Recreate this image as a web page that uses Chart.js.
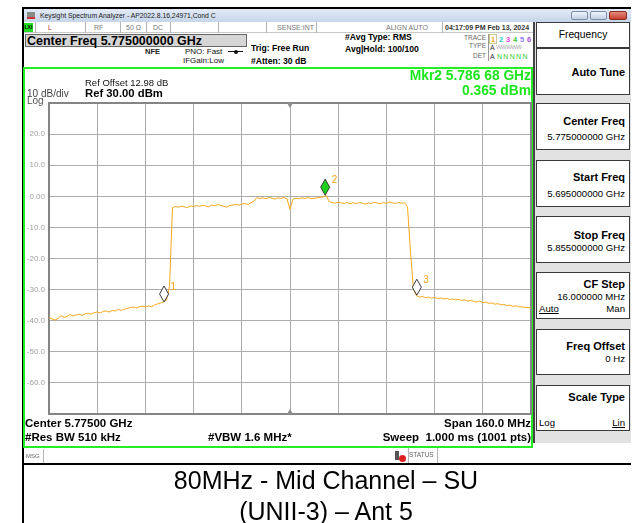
<!DOCTYPE html>
<html>
<head>
<meta charset="utf-8">
<title>Spectrum Analyzer</title>
<script src="https://cdn.jsdelivr.net/npm/chart.js@4.4.1/dist/chart.umd.min.js"></script>
<style>
  body { margin:0; width:632px; height:523px; background:#fff; position:relative; overflow:hidden;
         font-family:"Liberation Sans", Arial, sans-serif; color:#000; }
  .t { position:absolute; white-space:pre; line-height:1; }
  .b { font-weight:bold; }
  .bx { position:absolute; box-sizing:border-box; }
  .sep { position:absolute; width:1px; background:#b4b4b4; }
  .key { position:absolute; left:536px; width:94px; box-sizing:border-box; background:#fff; border:1px solid #3a3a3a; }
  .kt { position:absolute; right:4px; font-weight:bold; font-size:11px; line-height:1; white-space:pre; }
  .kv { position:absolute; right:4px; font-size:9.6px; line-height:1; white-space:pre; }
</style>
</head>
<body>

<!-- outer frame -->
<div class="bx" style="left:22px;top:7px;width:2px;height:516px;background:#000"></div>
<div class="bx" style="left:22px;top:7px;width:609px;height:2px;background:#000"></div>

<!-- title bar -->
<div class="bx" style="left:24px;top:9px;width:607px;height:13px;background:linear-gradient(#e3ebf6,#c6d5e9)"></div>
<div class="bx" style="left:27px;top:12px;width:8px;height:7px;background:#8a8a8a;border-bottom:2px solid #c33"></div>
<div class="t" style="left:40px;top:12.6px;font-size:6.8px;color:#1a1a1a">Keysight Spectrum Analyzer - AP2022.8.16,24971,Cond C</div>
<div class="bx" style="left:571px;top:11px;width:17px;height:9px;background:linear-gradient(#eef3fa,#c2d1e6);border:1px solid #7d8ea6;border-radius:2px"></div>
<div class="bx" style="left:590px;top:11px;width:17px;height:9px;background:linear-gradient(#eef3fa,#c2d1e6);border:1px solid #7d8ea6;border-radius:2px"></div>
<div class="bx" style="left:609px;top:11px;width:18px;height:9px;background:linear-gradient(#e68a80,#c8402f);border:1px solid #8a2a20;border-radius:2px"></div>

<!-- status row -->
<div class="bx" style="left:24px;top:22px;width:510px;height:11px;background:#fff;border-bottom:1px solid #c8c8c8"></div>
<div class="bx" style="left:24px;top:23px;width:9px;height:9px;background:#22dd22"></div>
<div class="t b" style="left:24.5px;top:25px;font-size:5px">LXI</div>
<div class="sep" style="left:35px;top:22px;height:11px"></div>
<div class="sep" style="left:85px;top:22px;height:11px"></div>
<div class="sep" style="left:120px;top:22px;height:11px"></div>
<div class="sep" style="left:146px;top:22px;height:11px"></div>
<div class="sep" style="left:170px;top:22px;height:11px"></div>
<div class="sep" style="left:218px;top:22px;height:11px"></div>
<div class="sep" style="left:266px;top:22px;height:11px"></div>
<div class="sep" style="left:316px;top:22px;height:11px"></div>
<div class="sep" style="left:442px;top:22px;height:11px"></div>
<div class="t" style="left:48px;top:23.6px;font-size:7px;color:#b03a30">L</div>
<div class="t" style="left:94px;top:23.6px;font-size:7px;color:#777">RF</div>
<div class="t" style="left:126px;top:23.6px;font-size:7px;color:#777">50 Ω</div>
<div class="t" style="left:153px;top:23.6px;font-size:7px;color:#777">DC</div>
<div class="t" style="right:318px;top:23.6px;font-size:7px;color:#777">SENSE:INT</div>
<div class="t" style="left:386px;top:23.6px;font-size:7px;color:#777">ALIGN AUTO</div>
<div class="t b" style="left:445px;top:23.6px;font-size:7px;color:#333">04:17:09 PM Feb 13, 2024</div>

<!-- settings area -->
<div class="bx" style="left:25px;top:34px;width:222px;height:13px;background:#d6d6d6;border:1px solid #666"></div>
<div class="t b" style="left:27px;top:35.2px;font-size:12.5px">Center Freq 5.775000000 GHz</div>
<div class="t b" style="left:145px;top:48.1px;font-size:7.5px;color:#222">NFE</div>
<div class="t" style="left:185px;top:48.1px;font-size:8px;color:#111">PNO: Fast</div>
<div class="bx" style="left:228px;top:51px;width:15px;height:1px;background:#111"></div>
<div class="bx" style="left:234px;top:49.5px;width:4px;height:4px;border-radius:2px;background:#111"></div>
<div class="t" style="left:183px;top:57.1px;font-size:8px;color:#111">IFGain:Low</div>
<div class="t b" style="left:251px;top:44.3px;font-size:8.6px">Trig: Free Run</div>
<div class="t b" style="left:251px;top:56.8px;font-size:8.6px">#Atten: 30 dB</div>
<div class="t b" style="left:345px;top:33.3px;font-size:8.6px">#Avg Type: RMS</div>
<div class="t b" style="left:345px;top:44.8px;font-size:8.6px">Avg|Hold: 100/100</div>

<!-- trace table -->
<div class="t" style="right:146px;top:34.8px;font-size:6.5px;color:#666">TRACE</div>
<div class="t" style="right:146px;top:43.3px;font-size:6.5px;color:#666">TYPE</div>
<div class="t" style="right:146px;top:52.8px;font-size:6.5px;color:#666">DET</div>
<div class="sep" style="left:488px;top:34px;height:27px;background:#999"></div>
<div class="bx" style="left:489px;top:34px;width:8px;height:10px;border:1px solid #c8c890"></div>
<div class="t b" style="left:491px;top:35.5px;font-size:7.5px;color:#f5a31a">1</div>
<div class="t b" style="left:499px;top:35.5px;font-size:7.5px;color:#19c8c8">2</div>
<div class="t b" style="left:506px;top:35.5px;font-size:7.5px;color:#e040e0">3</div>
<div class="t b" style="left:513px;top:35.5px;font-size:7.5px;color:#3cc83c">4</div>
<div class="t b" style="left:520px;top:35.5px;font-size:7.5px;color:#8a7cff">5</div>
<div class="t b" style="left:527px;top:35.5px;font-size:7.5px;color:#b050e0">6</div>
<div class="t" style="left:490px;top:43.5px;font-size:7px;color:#333">A</div>
<div class="t" style="left:496px;top:44px;font-size:6px;color:#aaa;letter-spacing:-0.6px">WWWWW</div>
<div class="t" style="left:490px;top:52.6px;font-size:7px;color:#333">A</div>
<div class="t" style="left:497px;top:52.6px;font-size:7px;color:#33cc33;letter-spacing:1.3px">NNNNN</div>

<!-- plot frame + chart -->
<div class="bx" style="left:23px;top:67px;width:510px;height:381px;border:2px solid #22ee22"></div>
<canvas id="spec" width="508" height="378" style="position:absolute;left:24px;top:68px"></canvas>

<div class="t" style="left:85px;top:78.3px;font-size:9.5px;color:#111">Ref Offset 12.98 dB</div>
<div class="t b" style="left:85px;top:87.5px;font-size:11.3px">Ref 30.00 dBm</div>
<div class="t" style="left:27px;top:88.6px;font-size:10px;color:#444">10 dB/div</div>
<div class="t" style="left:27px;top:96px;font-size:10px;color:#555">Log</div>
<div class="t b" style="right:101px;top:68.9px;font-size:13.8px;color:#1ee61e">Mkr2 5.786 68 GHz</div>
<div class="t b" style="right:101px;top:83.9px;font-size:13.8px;color:#1ee61e">0.365 dBm</div>

<div class="t b" style="left:25px;top:417.7px;font-size:11.5px">Center 5.77500 GHz</div>
<div class="t b" style="left:25px;top:431.7px;font-size:11.5px">#Res BW 510 kHz</div>
<div class="t b" style="left:208px;top:431.7px;font-size:11.5px">#VBW 1.6 MHz*</div>
<div class="t b" style="right:101px;top:417.7px;font-size:11.5px">Span 160.0 MHz</div>
<div class="t b" style="right:101px;top:431.7px;font-size:11.5px">Sweep  1.000 ms (1001 pts)</div>

<!-- message row -->
<div class="t" style="left:26px;top:453px;font-size:6px;color:#666">MSG</div>
<div class="sep" style="left:43px;top:449px;height:14px"></div>
<div class="bx" style="left:395px;top:451px;width:4px;height:9px;background:#555"></div>
<div class="bx" style="left:399px;top:455px;width:7px;height:7px;border-radius:4px;background:#e02020"></div>
<div class="sep" style="left:408px;top:448px;height:15px"></div>
<div class="t" style="left:409px;top:452.3px;font-size:6.5px;color:#666">STATUS</div>
<div class="sep" style="left:437px;top:448px;height:15px"></div>
<div class="bx" style="left:22px;top:463px;width:609px;height:2px;background:#000"></div>

<!-- soft keys -->
<div class="bx" style="left:533px;top:22px;width:98px;height:421px;background:#e2e2e2;border-left:2px solid #444"></div>
<div class="key" style="top:22px;height:26px"></div>
<div class="t" style="left:536px;width:94px;text-align:center;top:30px;font-size:10.3px">Frequency</div>
<div class="key" style="top:48px;height:47px"><div class="kt" style="top:18.3px">Auto Tune</div></div>
<div class="key" style="top:103px;height:47px"><div class="kt" style="top:11.6px">Center Freq</div><div class="kv" style="top:27.8px">5.775000000 GHz</div></div>
<div class="key" style="top:160px;height:47px"><div class="kt" style="top:10.6px">Start Freq</div><div class="kv" style="top:27.8px">5.695000000 GHz</div></div>
<div class="key" style="top:216px;height:47px"><div class="kt" style="top:12.6px">Stop Freq</div><div class="kv" style="top:26.3px">5.855000000 GHz</div></div>
<div class="key" style="top:272px;height:47px"><div class="kt" style="top:5.6px">CF Step</div><div class="kv" style="top:19.3px">16.000000 MHz</div>
  <div class="kv" style="left:2px;right:auto;top:31.3px;text-decoration:underline">Auto</div><div class="kv" style="top:31.3px">Man</div></div>
<div class="key" style="top:329px;height:46px"><div class="kt" style="top:10.6px">Freq Offset</div><div class="kv" style="top:24.3px">0 Hz</div></div>
<div class="key" style="top:385px;height:46px"><div class="kt" style="top:6.3px">Scale Type</div>
  <div class="kv" style="left:2px;right:auto;top:32px">Log</div><div class="kv" style="top:32px;text-decoration:underline">Lin</div></div>
<div class="bx" style="left:533px;top:443px;width:98px;height:20px;background:#fff"></div>

<!-- caption -->
<div class="t" style="left:26px;width:600px;text-align:center;top:468.3px;font-size:25px">80MHz - Mid Channel – SU</div>
<div class="t" style="left:26px;width:600px;text-align:center;top:498.5px;font-size:25px">(UNII-3) – Ant 5</div>

<script>
// sweep grid of the trace (MHz)
const sweepStartMHz = 5695;
const sweepStepMHz = 1;
const spanMinMHz = 5695;
const spanMaxMHz = 5855;
const gridStepMHz = 16;
const centerFreqMHz = 5775;

// trace levels in dBm, one per sweep point
const traceLevelDbm = [
  -39.0, -39.4, -39.8, -39.3, -38.4, -38.9, -38.6, -38.0, -38.5, -38.2, // 5695
  -37.9, -38.3, -37.8, -37.6, -37.9, -37.4, -37.2, -37.5, -37.0, -36.9, // 5705
  -37.2, -36.7, -36.9, -36.4, -36.7, -36.3, -36.0, -35.8, -35.6, -35.9, // 5715
  -35.5, -35.3, -35.6, -35.2, -35.5, -35.0, -34.6, -34.3, -34.0, -33.4, // 5725
  -29.0, -3.6, -3.3, -3.5, -3.2, -3.4, -3.6, -3.1, -3.3, -3.0,           // 5735
  -3.2, -2.9, -3.1, -3.4, -2.8, -3.0, -2.7, -2.9, -3.2, -3.5,            // 5745
  -3.0, -2.8, -2.6, -2.9, -2.5, -2.3, -2.6, -2.1, -1.6, -0.4,            // 5755
  -0.7, -0.5, -0.8, -0.4, -0.6, -0.9, -0.5, -0.7, -0.4, -0.8,            // 5765
  -4.2, -0.9, -0.6, -0.8, -0.5, -0.7, -0.4, -0.8, -0.6, -0.5,            // 5775
  -0.3, -0.2, 0.3, -1.7, -2.0, -2.2, -1.9, -2.1, -2.3, -2.0,             // 5785
  -2.4, -2.1, -2.3, -2.0, -2.2, -2.5, -2.1, -2.3, -1.9, -2.2,            // 5795
  -2.4, -2.0, -2.3, -1.8, -2.1, -2.3, -2.0, -2.2, -2.1, -3.3,            // 5805
  -18.0, -30.0, -32.0, -32.4, -32.2, -32.6, -32.4, -32.8, -32.5, -32.9,  // 5815
  -32.7, -33.0, -32.8, -33.2, -33.0, -33.3, -33.1, -33.5, -33.3, -33.7,  // 5825
  -33.5, -33.8, -34.0, -33.7, -34.2, -34.0, -34.4, -34.3, -34.7, -34.5,  // 5835
  -34.9, -34.8, -35.1, -35.0, -35.4, -35.2, -35.6, -35.5, -35.8, -35.7,  // 5845
  -36.0                                                                   // 5855
];

// markers
const markerNames = ["1", "2", "3"];
const markerFreqMHz = [5733.2, 5786.68, 5817.1];
const markerLevelDbm = [-34.0, 0.365, -31.8];
const activeMarker = 1;

// y axis: 10 dB/div from the 30 dBm reference
const refLevelDbm = 30;
const bottomLevelDbm = -70;
const dbPerDiv = 10;

const tracePoints = traceLevelDbm.map((v, i) => ({ x: sweepStartMHz + i * sweepStepMHz, y: v }));

// grid frame around the plot
const frameBox = {
  id: "frameBox",
  beforeDatasetsDraw(chart) {
    const a = chart.chartArea;
    const ctx = chart.ctx;
    ctx.save();
    ctx.strokeStyle = "#858585";
    ctx.lineWidth = 2;
    ctx.strokeRect(a.left, a.top, a.right - a.left, a.bottom - a.top);
    ctx.restore();
  }
};

// diamond markers + center freq ticks
const markerDraw = {
  id: "markerDraw",
  afterDatasetsDraw(chart) {
    const ctx = chart.ctx;
    const x = chart.scales.x, y = chart.scales.y, a = chart.chartArea;
    ctx.save();
    const cx = x.getPixelForValue(centerFreqMHz);
    ctx.fillStyle = "#8c8c8c";
    ctx.beginPath();
    ctx.moveTo(cx - 3, a.top); ctx.lineTo(cx + 3, a.top); ctx.lineTo(cx, a.top + 5);
    ctx.fill();
    ctx.beginPath();
    ctx.moveTo(cx - 3, a.bottom); ctx.lineTo(cx + 3, a.bottom); ctx.lineTo(cx, a.bottom - 5);
    ctx.fill();

    markerFreqMHz.forEach((f, i) => {
      const px = x.getPixelForValue(f);
      const py = y.getPixelForValue(markerLevelDbm[i]);
      ctx.beginPath();
      ctx.moveTo(px, py);
      ctx.lineTo(px + 4.5, py - 8);
      ctx.lineTo(px, py - 16);
      ctx.lineTo(px - 4.5, py - 8);
      ctx.closePath();
      ctx.fillStyle = i === activeMarker ? "#1fd11f" : "#ffffff";
      ctx.fill();
      ctx.strokeStyle = "#3a3a3a";
      ctx.lineWidth = 1;
      ctx.stroke();
      ctx.fillStyle = "#f5a31a";
      ctx.font = '10px "Liberation Sans", Arial';
      ctx.textBaseline = "top";
      ctx.fillText(markerNames[i], px + 6.5, py - 20);
    });
    ctx.restore();
  }
};

new Chart(document.getElementById("spec"), {
  type: "line",
  data: {
    datasets: [
      {
        data: tracePoints,
        borderColor: "#fba71b",
        borderWidth: 1,
        pointRadius: 0,
        tension: 0,
        fill: false,
      },
    ],
  },
  options: {
    responsive: false,
    animation: false,
    events: [],
    layout: { padding: { left: 0, top: 35, right: 1, bottom: 32 } },
    plugins: { legend: { display: false }, tooltip: { enabled: false } },
    scales: {
      x: {
        type: "linear",
        min: spanMinMHz,
        max: spanMaxMHz,
        ticks: { display: false, stepSize: gridStepMHz },
        grid: { color: "#acacac", lineWidth: 1, drawTicks: false },
        border: { display: false },
        afterFit: (s) => { s.height = 0; },
      },
      y: {
        min: bottomLevelDbm,
        max: refLevelDbm,
        ticks: {
          stepSize: dbPerDiv,
          padding: 4,
          color: "#a0a0a0",
          font: { family: "Liberation Sans", size: 8 },
          callback: (v) => {
            if (v === refLevelDbm || v === bottomLevelDbm) return "";
            return v === 0 ? "0.00" : v.toFixed(1);
          },
        },
        grid: { color: "#acacac", lineWidth: 1, drawTicks: false },
        border: { display: false },
        afterFit: (s) => { s.width = 25; },
      },
    },
  },
  plugins: [frameBox, markerDraw],
});
</script>
</body>
</html>
